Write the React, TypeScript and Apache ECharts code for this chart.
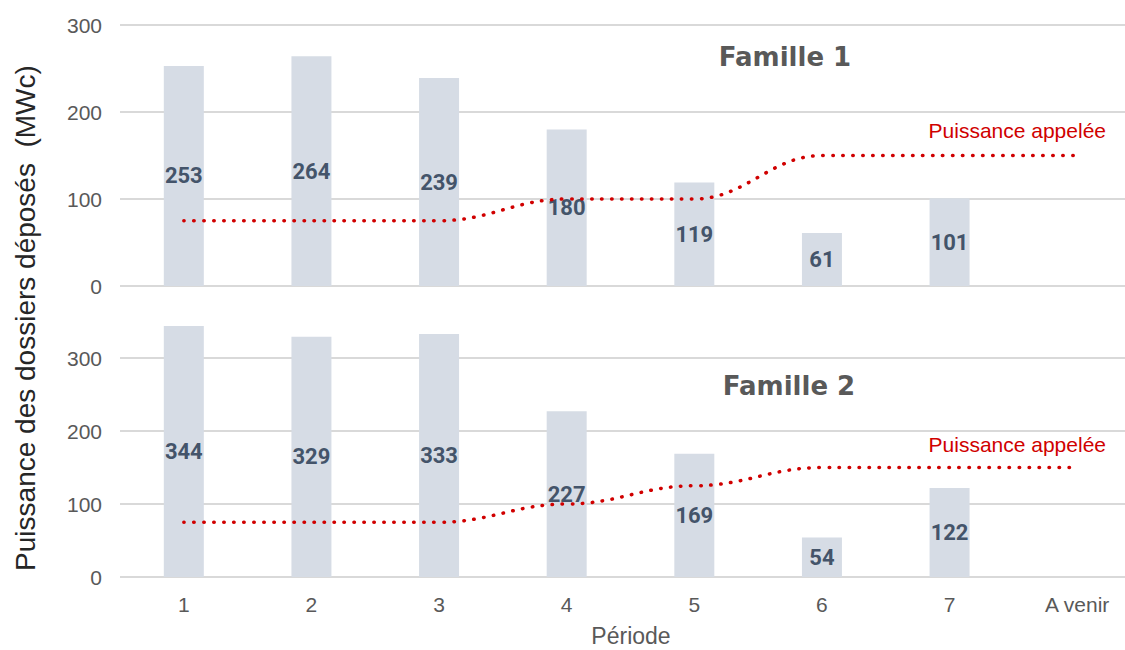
import React, { useEffect, useRef } from "react";
import * as echarts from "echarts";

const categories = ["1", "2", "3", "4", "5", "6", "7", "A venir"];
const famille1 = [253, 264, 239, 180, 119, 61, 101, null];
const famille2 = [344, 329, 333, 227, 169, 54, 122, null];
const appelee1 = [75, 75, 75, 100, 100, 150, 150, 150];
const appelee2 = [75, 75, 75, 100, 125, 150, 150, 150];
const yTicks1 = { min: 0, max: 300, interval: 100 };
const yTicks2 = { min: 0, max: 350, interval: 100 };

const FONT = "'Liberation Sans', Arial, sans-serif";
const TFONT = "'DejaVu Sans', 'Liberation Sans', sans-serif";
const BFONT = "Roboto, 'Liberation Sans', sans-serif";
const GREY = "#595959";
const BAR = "#d6dce5";
const LABEL = "#44546a";
const RED = "#d00000";

export default function App() {
  const ref = useRef<HTMLDivElement>(null);
  useEffect(() => {
    const chart = echarts.init(ref.current!, null, { renderer: "svg" });
    const xAxisBase = (gridIndex: number, showLabel: boolean) => ({
      type: "category",
      gridIndex,
      data: categories,
      axisLine: { show: false },
      axisTick: { show: false },
      axisLabel: {
        show: showLabel,
        color: GREY,
        fontSize: 21,
        fontFamily: FONT,
        margin: 17,
        interval: 0,
      },
    });
    const yAxisBase = (gridIndex: number, t: any) => ({
      type: "value",
      gridIndex,
      min: t.min,
      max: t.max,
      interval: t.interval,
      axisLine: { show: false },
      axisTick: { show: false },
      axisLabel: {
        color: GREY,
        fontSize: 21,
        fontFamily: FONT,
        margin: 18,
        showMaxLabel: t.max % t.interval === 0,
      },
      splitLine: {
        show: true,
        lineStyle: { color: "#d9d9d9", width: 2 },
        showMaxLine: t.max % t.interval === 0,
      },
    });
    const barSeries = (idx: number, data: any[]) => ({
      type: "bar",
      xAxisIndex: idx,
      yAxisIndex: idx,
      data,
      barWidth: 40,
      itemStyle: { color: BAR },
      label: {
        show: true,
        position: "inside",
        color: LABEL,
        fontSize: 22,
        fontWeight: "bold",
        fontFamily: BFONT,
      },
      z: 2,
    });
    const lineSeries = (idx: number, data: number[]) => ({
      type: "line",
      xAxisIndex: idx,
      yAxisIndex: idx,
      data,
      smooth: 0.4,
      smoothMonotone: "x",
      showSymbol: false,
      lineStyle: { color: RED, width: 3.5, type: [0.5, 9.5], cap: "round" },
      z: 3,
    });
    chart.setOption({
      animation: false,
      backgroundColor: "#ffffff",
      grid: [
        { left: 120, right: 4, top: 25, height: 261 },
        { left: 120, right: 4, top: 321.5, height: 255.5 },
      ],
      xAxis: [xAxisBase(0, false), xAxisBase(1, true)],
      yAxis: [yAxisBase(0, yTicks1), yAxisBase(1, yTicks2)],
      series: [
        barSeries(0, famille1),
        barSeries(1, famille2),
        lineSeries(0, appelee1),
        lineSeries(1, appelee2),
      ],
      graphic: [
        {
          type: "text",
          x: 785,
          y: 57,
          style: {
            text: "Famille 1",
            fill: GREY,
            font: `bold 26px ${TFONT}`,
            textAlign: "center",
            textVerticalAlign: "middle",
          },
        },
        {
          type: "text",
          x: 789,
          y: 386,
          style: {
            text: "Famille 2",
            fill: GREY,
            font: `bold 26px ${TFONT}`,
            textAlign: "center",
            textVerticalAlign: "middle",
          },
        },
        {
          type: "text",
          x: 1106,
          y: 130,
          style: {
            text: "Puissance appelée",
            fill: RED,
            font: `21px ${FONT}`,
            textAlign: "right",
            textVerticalAlign: "middle",
          },
        },
        {
          type: "text",
          x: 1106,
          y: 444,
          style: {
            text: "Puissance appelée",
            fill: RED,
            font: `21px ${FONT}`,
            textAlign: "right",
            textVerticalAlign: "middle",
          },
        },
        {
          type: "text",
          x: 25,
          y: 318,
          rotation: Math.PI / 2,
          style: {
            text: "Puissance des dossiers déposés  (MWc)",
            fill: "#262626",
            font: `28px ${FONT}`,
            textAlign: "center",
            textVerticalAlign: "middle",
          },
        },
        {
          type: "text",
          x: 631,
          y: 636,
          style: {
            text: "Période",
            fill: GREY,
            font: `23px ${FONT}`,
            textAlign: "center",
            textVerticalAlign: "middle",
          },
        },
      ],
    });
    return () => chart.dispose();
  }, []);
  return (
    <div
      style={{
        position: "absolute",
        left: 0,
        top: 0,
        width: 1125,
        height: 650,
        overflow: "hidden",
      }}
    >
      <div ref={ref} style={{ width: 1145, height: 650 }} />
    </div>
  );
}
